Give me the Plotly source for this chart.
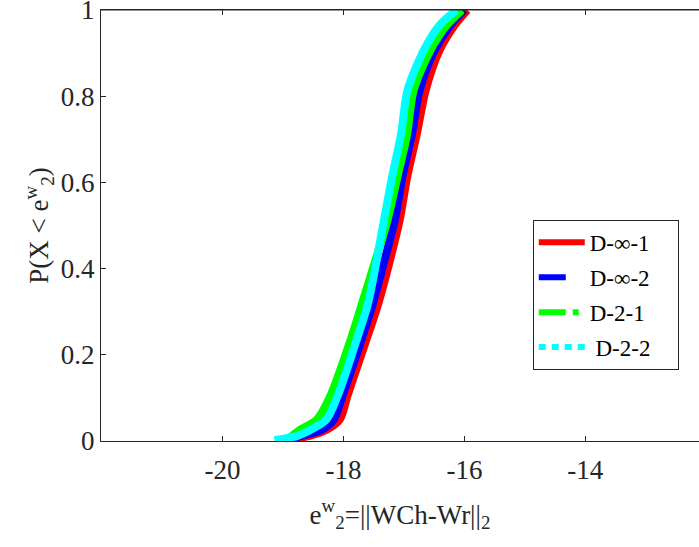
import plotly.graph_objects as go

prob = [0.002, 0.012, 0.026, 0.05, 0.107, 0.223, 0.316, 0.42, 0.513, 0.617, 0.71, 0.814, 0.907, 0.965, 1.0]

# x values (e2w) at which each series reaches the probability levels above
x_dinf1 = [-18.95, -18.56, -18.28, -18.06, -17.93, -17.65, -17.43, -17.23, -17.07, -16.94, -16.79, -16.64, -16.41, -16.16, -15.95]
x_dinf2 = [-19.02, -18.69, -18.36, -18.16, -18.01, -17.73, -17.52, -17.32, -17.15, -17.02, -16.87, -16.74, -16.49, -16.23, -16.00]
x_d21 = [-18.94, -18.85, -18.72, -18.44, -18.21, -17.91, -17.70, -17.47, -17.27, -17.10, -16.95, -16.84, -16.56, -16.29, -16.04]
x_d22 = [-19.14, -18.76, -18.54, -18.28, -18.09, -17.81, -17.60, -17.45, -17.33, -17.19, -17.05, -16.94, -16.67, -16.41, -16.13]

names = ["D-\u221e-1\u00a0\u00a0\u00a0\u00a0", "D-\u221e-2", "D-2-1", "\u00a0D-2-2"]
colors = ["#FF0000", "#0000FF", "#00FF00", "#00FFFF"]
dashes = ["solid", "27px,20px", "27px,7px,6px,10px", "7px,6px"]
series = [x_dinf1, x_dinf2, x_d21, x_d22]

x_ticks = [-20, -18, -16, -14]
y_ticks = [0, 0.2, 0.4, 0.6, 0.8, 1]
y_tick_text = ["0", "0.2", "0.4", "0.6", "0.8", "1"]

FONT = "Liberation Serif, Times New Roman, Times, serif"
AX = "#262626"

fig = go.Figure()
for xs, c in zip(series, colors):
    fig.add_trace(go.Scatter(x=xs, y=prob, mode="lines", line=dict(color=c, width=8, shape="spline", smoothing=0.8),
                             showlegend=False, hoverinfo="skip"))
for i, (n, c, d) in enumerate(zip(names, colors, dashes)):
    fig.add_trace(go.Scatter(x=[None], y=[None], mode="lines", name=n, legendgroup=f"g{i}",
                             line=dict(color=c, width=6, dash=d)))

fig.add_shape(type="line", xref="paper", yref="paper", x0=0, x1=1, y0=1, y1=1,
              line=dict(color=AX, width=1.2), layer="above")

fig.update_layout(
    width=699, height=547,
    margin=dict(l=101, r=0, t=10, b=106),
    paper_bgcolor="white", plot_bgcolor="white",
    font=dict(family=FONT, color=AX),
    xaxis=dict(range=[-22.01, -12.12], tickvals=x_ticks, ticktext=[str(v) for v in x_ticks],
               ticks="inside", ticklen=5, tickcolor=AX, showline=True, linecolor=AX, linewidth=1,
               mirror="ticks", showgrid=False, zeroline=False, tickfont=dict(size=27, family=FONT, color=AX),
               ticklabelstandoff=5, automargin=False, ticklabeloverflow="allow",
               title=dict(text="e<sup>w</sup><sub>2</sub>=||WCh-Wr||<sub>2</sub>", font=dict(size=27, family=FONT, color=AX), standoff=20)),
    yaxis=dict(range=[0, 1], tickvals=y_ticks, ticktext=y_tick_text,
               ticks="inside", ticklen=5, tickcolor=AX, showline=True, linecolor=AX, linewidth=1,
               mirror=False, showgrid=False, zeroline=False, tickfont=dict(size=27, family=FONT, color=AX),
               automargin=False, ticklabeloverflow="allow",
               title=dict(text="P(X < e<sup>w</sup><sub>2</sub>)", font=dict(size=27, family=FONT, color=AX), standoff=4)),
    legend=dict(x=0.722, y=0.513, xanchor="left", yanchor="top", bgcolor="white", bordercolor=AX, borderwidth=1,
                font=dict(size=23, family=FONT, color="black"), tracegroupgap=2, itemwidth=46),
)
fig.write_html("out.html", config={"displayModeBar": False},
               post_script="document.body.style.margin='0';document.body.style.overflow='hidden';")
